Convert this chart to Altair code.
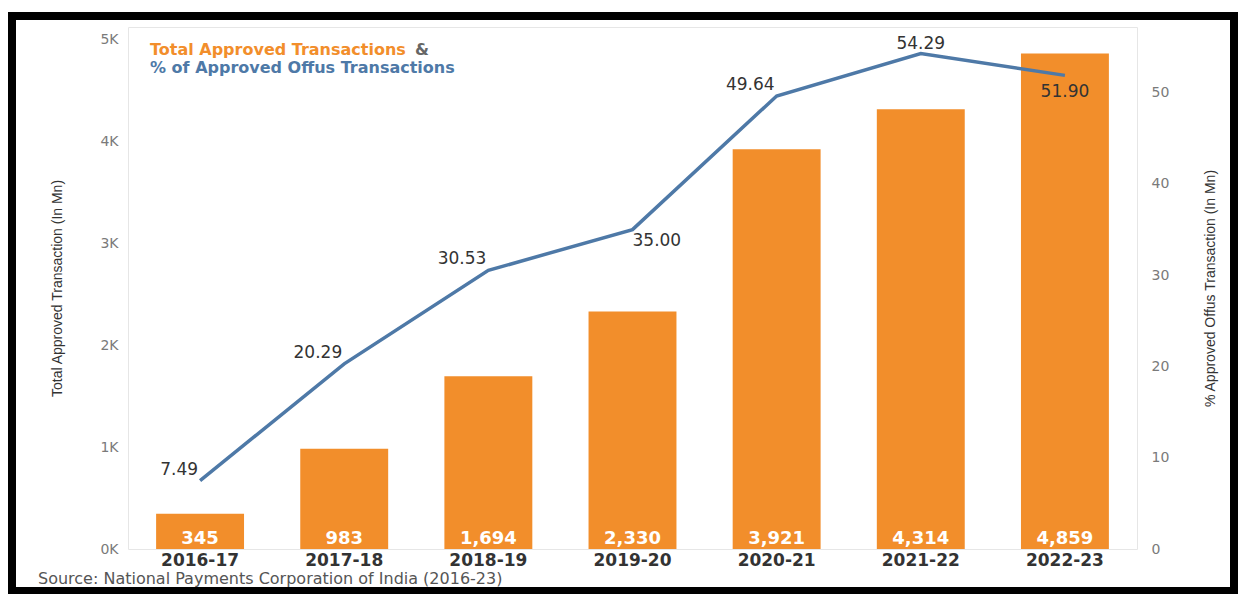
import altair as alt
import pandas as pd

years = ["2016-17", "2017-18", "2018-19", "2019-20", "2020-21", "2021-22", "2022-23"]
total_txn = [345, 983, 1694, 2330, 3921, 4314, 4859]
offus_pct = [7.49, 20.29, 30.53, 35.00, 49.64, 54.29, 51.90]
left_ticks = [0, 1000, 2000, 3000, 4000, 5000]
right_ticks = [0, 10, 20, 30, 40, 50]

df = pd.DataFrame({"Year": years, "Total": total_txn, "Pct": offus_pct})

W, H = 1009, 522
ORANGE = "#F28E2B"
BLUE = "#4E79A7"
FONT = "DejaVu Sans"
NARROW = "Liberation Sans Narrow, Liberation Sans, sans-serif"

xenc = alt.X(
    "Year:N", sort=years,
    scale=alt.Scale(paddingInner=0.39, paddingOuter=0.195),
    axis=alt.Axis(title=None, labelFontSize=17, labelFontWeight="bold", labelColor="#333333",
                  labelPadding=3, ticks=False, domain=False, labelAngle=0, labelFont=FONT),
)

left_scale = alt.Scale(domain=[0, 5120], nice=False)
left_axis = alt.Axis(
    values=left_ticks, labelExpr="format(datum.value/1000,'d') + 'K'",
    title="Total Approved Transaction (In Mn)", grid=False, ticks=False, domain=False,
    labelPadding=10, labelColor="#7a7a7a", labelFontSize=14, labelFont=FONT,
    titleFont=NARROW, titleFontSize=14, titleFontWeight="normal", titleColor="#333333",
    titleAngle=270, titleX=-71, titleY=H / 2, titleAlign="center", titleBaseline="middle",
)
right_scale = alt.Scale(domain=[0, 57.2], nice=False)
right_axis = alt.Axis(
    orient="right", values=right_ticks, format="d",
    title="% Approved Offus Transaction (In Mn)", grid=False, ticks=False, domain=False,
    labelPadding=14, labelColor="#7a7a7a", labelFontSize=14, labelFont=FONT,
    titleFont=NARROW, titleFontSize=14, titleFontWeight="normal", titleColor="#333333",
    titleAngle=270, titleX=73, titleY=H / 2, titleAlign="center", titleBaseline="middle",
)

base = alt.Chart(df)

bars = base.mark_bar(color=ORANGE).encode(
    x=xenc, y=alt.Y("Total:Q", scale=left_scale, axis=left_axis)
)
bar_text = base.mark_text(
    color="white", fontWeight="bold", fontSize=18, font=FONT, baseline="bottom", dy=-1
).encode(
    x=xenc,
    y=alt.YDatum(0, scale=left_scale, axis=left_axis),
    text=alt.Text("Total:Q", format=","),
)
left_layer = alt.layer(bars, bar_text)

line = base.mark_line(color=BLUE, strokeWidth=3.5).encode(
    x=xenc, y=alt.Y("Pct:Q", scale=right_scale, axis=right_axis)
)

def pct_labels(cats, **kw):
    return base.transform_filter(
        alt.FieldOneOfPredicate(field="Year", oneOf=cats)
    ).mark_text(fontSize=17, font=FONT, color="#333333", **kw).encode(
        x=xenc,
        y=alt.Y("Pct:Q", scale=right_scale, axis=right_axis),
        text=alt.Text("Pct:Q", format=".2f"),
    )

lab_above_left = pct_labels(["2016-17", "2017-18", "2018-19", "2020-21"],
                            align="right", baseline="middle", dx=-2, dy=-11)
lab_below_right = pct_labels(["2019-20"], align="left", baseline="middle", dx=0, dy=11)
lab_above = pct_labels(["2021-22"], align="center", baseline="middle", dy=-10)
lab_below = pct_labels(["2022-23"], align="center", baseline="middle", dy=17)

right_layer = alt.layer(line, lab_above_left, lab_below_right, lab_above, lab_below)

deco = alt.Chart(pd.DataFrame({"k": [0]}))
title1 = deco.mark_text(text="Total Approved Transactions", color=ORANGE, fontWeight="bold",
                        fontSize=16, font=FONT, align="left", baseline="middle").encode(
    x=alt.value(22), y=alt.value(23))
title_amp = deco.mark_text(text="&", color="#666666", fontWeight="bold",
                           fontSize=16, font=FONT, align="left", baseline="middle").encode(
    x=alt.value(287), y=alt.value(23))
title2 = deco.mark_text(text="% of Approved Offus Transactions", color=BLUE, fontWeight="bold",
                        fontSize=16, font=FONT, align="left", baseline="middle").encode(
    x=alt.value(22), y=alt.value(41))
source = deco.mark_text(text="Source: National Payments Corporation of India (2016-23)",
                        color="#555555", fontSize=16, font=FONT, align="left",
                        baseline="middle").encode(x=alt.value(-90), y=alt.value(552))
frame = deco.mark_rect(filled=False, stroke="black", strokeWidth=8).encode(
    x=alt.value(-116), x2=alt.value(1106), y=alt.value(-11), y2=alt.value(564))

chart = alt.layer(
    left_layer, right_layer, title1, title_amp, title2, source, frame
).resolve_scale(y="independent").properties(
    width=W, height=H,
    autosize=alt.AutoSizeParams(type="none"),
    padding={"left": 120, "top": 19, "right": 101, "bottom": 45},
    background="white",
).configure_view(stroke="#e6e6e6", strokeWidth=1)

chart.save("out.html", embed_options={"renderer": "svg", "actions": False})
